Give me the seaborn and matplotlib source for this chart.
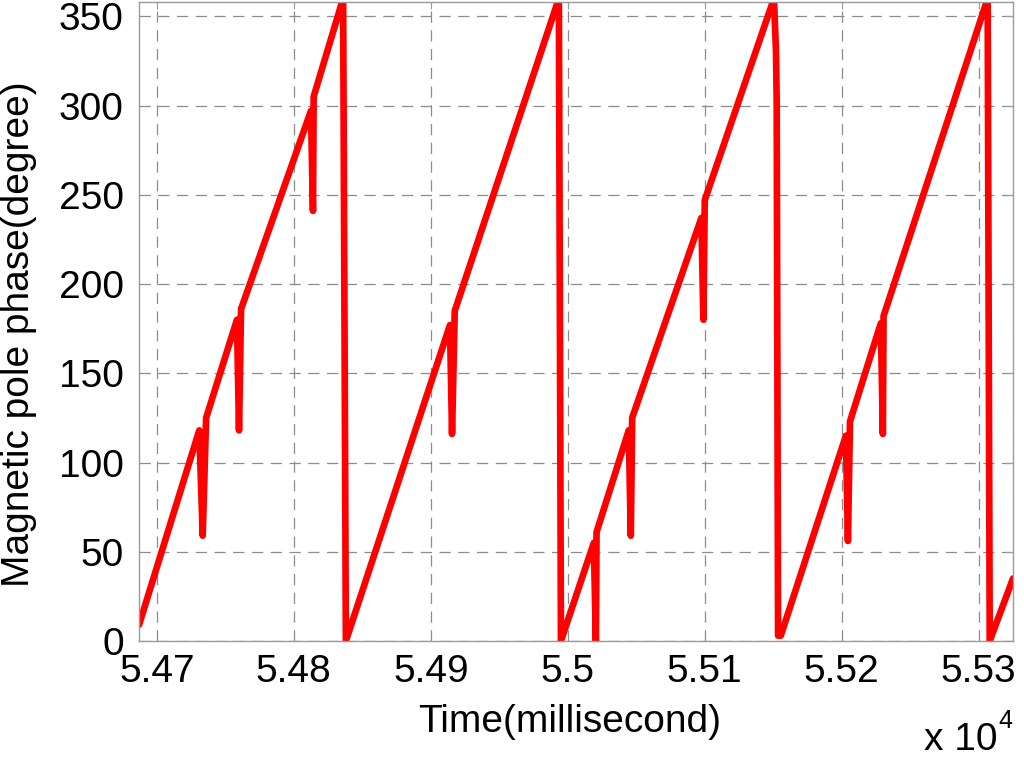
import matplotlib
matplotlib.use('Agg')
import matplotlib.pyplot as plt
import numpy as np
import seaborn as sns

# magnetic pole phase (time in ms, phase in degree)
time_ms = [54687, 54731, 54733.5, 54736, 54758.5, 54760, 54761.5, 54812.5, 54814, 54814.5,
           54836, 54838,
           54914, 54915.5, 54917.5, 54993.5, 54995,
           55019, 55020.5, 55021, 55044.5, 55046, 55047, 55097.5, 55099, 55100,
           55150.5, 55152, 55152.5, 55153.5, 55155.5,
           55203, 55204.5, 55206, 55228.5, 55230, 55230.5, 55306.5, 55308,
           55325]
phase_deg = [9, 118, 59, 125, 180, 118, 186, 297, 241, 305,
             360, 0,
             177, 116, 185, 360, 0,
             55, 0, 61, 118, 59, 125, 237, 180, 247,
             360, 330, 302, 3, 3,
             115, 56, 123, 178, 116, 182, 360, 0,
             35]

x_ticks = [54700, 54800, 54900, 55000, 55100, 55200, 55300]
x_labels = ['5.47', '5.48', '5.49', '5.5', '5.51', '5.52', '5.53']
y_ticks = [0, 50, 100, 150, 200, 250, 300, 350]

sns.set_style('white')
plt.rcParams['font.family'] = ['Liberation Sans', 'DejaVu Sans']
plt.rcParams['text.color'] = 'black'
plt.rcParams['axes.labelcolor'] = 'black'

fig = plt.figure(figsize=(10.24, 7.59), dpi=100)
ax = fig.add_axes([139/1024, 1 - 641/759, 874/1024, 639/759])

sns.lineplot(x=time_ms, y=phase_deg, sort=False, estimator=None, color='#ff0000',
             linewidth=4.8, ax=ax, solid_joinstyle='round', solid_capstyle='round')

ax.set_xlim(54687, 55325)
ax.set_ylim(0, 358)
ax.set_xticks(x_ticks)
ax.set_xticklabels(x_labels)
ax.set_yticks(y_ticks)

# matlab style dashed grid and grey box
ax.grid(True, color='#8c8c8c', linestyle=(0, (9, 6)), linewidth=0.9)
ax.set_axisbelow(True)
for s in ax.spines.values():
    s.set_color('#9a9a9a')
    s.set_linewidth(1.0)
    s.set_visible(True)

ax.tick_params(axis='both', direction='in', length=5, width=0.8, color='#9a9a9a',
               labelsize=28, labelcolor='black', top=True, right=True)
ax.tick_params(axis='x', pad=9)
ax.tick_params(axis='y', pad=11)

ax.set_xlabel('Time(millisecond)', fontsize=28, color='black')
ax.xaxis.set_label_coords(0.493, -0.099)
ax.set_ylabel('Magnetic pole phase(degree)', fontsize=28, color='black')
ax.yaxis.set_label_coords(-0.117, 0.48)

fig.text(997/1024, 1 - 750/759, 'x 10', fontsize=28, ha='right', va='baseline', color='black')
fig.text(998/1024, 1 - 728/759, '4', fontsize=18, ha='left', va='baseline', color='black')

fig.savefig('out.png', dpi=100)
